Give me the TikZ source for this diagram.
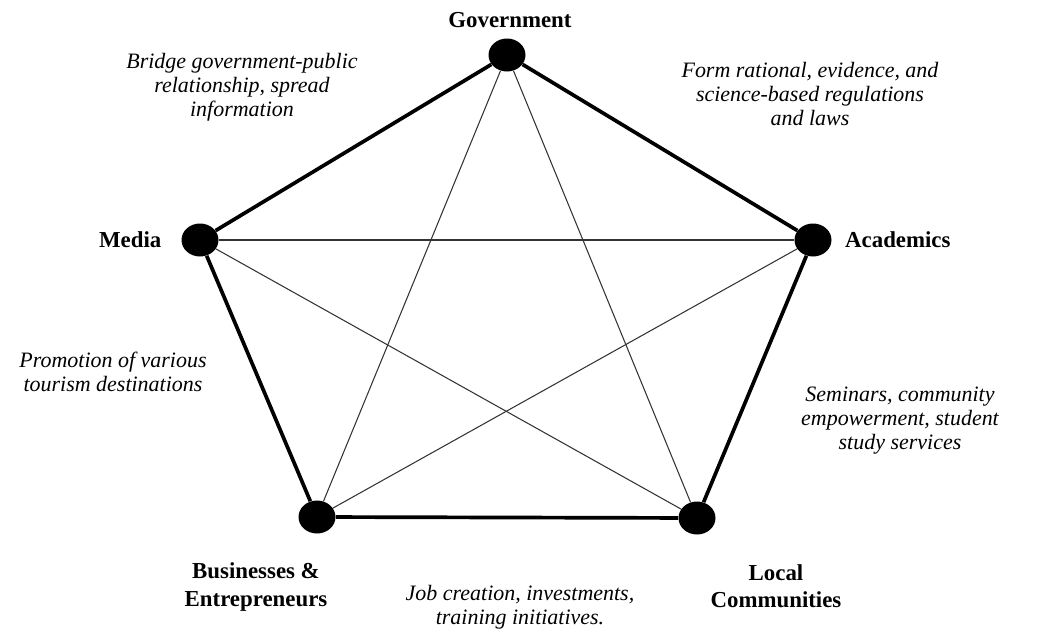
\documentclass[tikz,border=0pt]{standalone}
\usepackage{fontspec}
\setmainfont{Liberation Serif}
\usetikzlibrary{positioning,shapes.geometric}

\tikzset{
  actor/.style={ellipse,fill=black,minimum width=0.74cm,minimum height=0.66cm,inner sep=0pt},
  actorlabel/.style={font=\fontsize{13}{15.4}\selectfont\bfseries,align=center},
  rolelabel/.style={font=\fontsize{12.5}{13.7}\selectfont\itshape,align=center},
  strong/.style={line width=2.1pt},
  weak/.style={line width=0.6pt,black!80}
}

\begin{document}
\begin{tikzpicture}
    \useasboundingbox (0,0) rectangle (20.74,12.6);
    %Actors
    \node[actor] (gov) at (10.14,11.5) {};
    \node[actor] (acad) at (16.26,7.8) {};
    \node[actor] (local) at (13.94,2.24) {};
    \node[actor] (bus) at (6.34,2.26) {};
    \node[actor] (media) at (4.0,7.8) {};
    %Names
    \node[actorlabel] (govname) at (10.2,12.2) {Government};
    \node[actorlabel,anchor=east] (medianame) at (3.35,7.8) {Media};
    \node[actorlabel,anchor=west] (acadname) at (16.78,7.8) {Academics};
    \node[actorlabel] (busname) at (5.12,0.86) {Businesses \&\\Entrepreneurs};
    \node[actorlabel] (localname) at (15.52,0.88) {Local\\Communities};
    %Roles
    \node[rolelabel] (mediarole) at (4.84,10.86) {Bridge government-public\\relationship, spread\\information};
    \node[rolelabel] (acadrole) at (16.2,10.72) {Form rational, evidence, and\\science-based regulations\\and laws};
    \node[rolelabel] (promorole) at (2.26,5.16) {Promotion of various\\tourism destinations};
    \node[rolelabel] (semrole) at (18.0,4.18) {Seminars, community\\empowerment, student\\study services};
    \node[rolelabel] (jobrole) at (10.4,0.46) {Job creation, investments,\\training initiatives.};
    %Pentagon
    \draw[strong] (gov) -- (acad) -- (local) -- (bus) -- (media) -- (gov);
    %Star
    \draw[weak] (gov) -- (local);
    \draw[weak] (gov) -- (bus);
    \draw[weak] (media) -- (acad);
    \draw[weak] (media) -- (local);
    \draw[weak] (acad) -- (bus);
\end{tikzpicture}
\end{document}
